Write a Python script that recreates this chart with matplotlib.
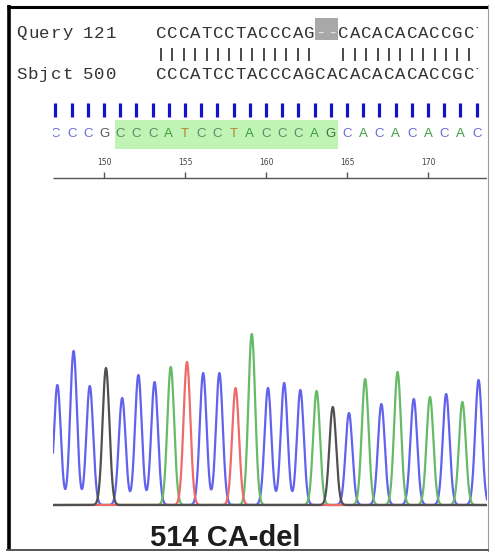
"""
Sanger trace figure: 514 CA deletion
"""

import numpy as np
import matplotlib
matplotlib.use('Agg')
import matplotlib.pyplot as plt
from matplotlib.patches import Rectangle

# ---- data ----
query_label = ('Query', '121')
sbjct_label = ('Sbjct', '500')
query_seq = "CCCATCCTACCCAG--CACACACACCGCT"
sbjct_seq = "CCCATCCTACCCAGCACACACACACCGCT"
match_cols = list(range(0, 14)) + list(range(16, 28))

first_pos = 147
base_calls = "CCCGCCCATCCTACCCAGCACACACAC"
highlight = (151, 164)
ruler_ticks = [150, 155, 160, 165, 170]

# peak height of each called base (trace units)
peak_heights = [120, 154, 119, 137, 107, 130, 123, 138, 143, 132, 132, 117, 171,
                117, 122, 115, 114, 98, 92, 126, 101, 133, 106, 108, 111, 103, 125]

label = '514 CA-del'

# ---- styling ----
W, H = 495, 552
PITCH = 11.4
trace_colors = {'C': '#6262ee', 'A': '#66bb66', 'T': '#f06a6a', 'G': '#505050'}
call_colors = {'C': '#6a6ad8', 'A': '#3d9a3d', 'T': '#c0802a', 'G': '#555555'}
call_colors_hl = {'C': '#5a8a6a', 'A': '#3d9a3d', 'T': '#b8842a', 'G': '#3f6f3f'}
xmin, xmax = 146.85, 173.64


def px_axes(fig, x0, y0, x1, y1):
    # axes placed by pixel box (top-left origin)
    return fig.add_axes([x0 / W, 1 - y1 / H, (x1 - x0) / W, (y1 - y0) / H])


fig = plt.figure(figsize=(W / 100, H / 100), dpi=100)
fig.patch.set_facecolor('white')

# full-figure overlay in pixel coords
ax0 = fig.add_axes([0, 0, 1, 1])
ax0.set_xlim(0, W)
ax0.set_ylim(H, 0)
ax0.axis('off')

# frame
ax0.plot([7, 488], [6.5, 6.5], color='black', lw=2.2, solid_capstyle='butt')
ax0.plot([8.5, 8.5], [5, 551], color='black', lw=2.6, solid_capstyle='butt')
ax0.plot([487.5, 487.5], [5, 551], color='#9a9a9a', lw=0.8)
ax0.plot([7, 488], [550, 550], color='#555555', lw=1.4)

MONO = dict(family='Liberation Mono', fontsize=12.5)


def mono_row(x0, y, s, **kw):
    for i, ch in enumerate(s):
        ax0.text(x0 + i * PITCH, y, ch, ha='center', va='baseline',
                 color='#333333', **MONO, **kw)


seq_x0 = 161
# gap box in query
ax0.add_patch(Rectangle((315, 18), 23, 22, facecolor='#a8a8a8', edgecolor='none'))
mono_row(21.7, 37.5, query_label[0])
mono_row(88, 37.5, query_label[1])
for i, ch in enumerate(query_seq):
    ax0.text(seq_x0 + i * PITCH, 37.5, ch, ha='center', va='baseline',
             color='#e6e6e6' if ch == '-' else '#333333', **MONO)
ax0.vlines([seq_x0 + i * PITCH for i in match_cols], 48, 61, color='#3a3a3a', lw=1.3)
mono_row(21.7, 79, sbjct_label[0])
mono_row(88, 79, sbjct_label[1])
mono_row(seq_x0, 79, sbjct_seq)
# right edge cut of the alignment text
ax0.add_patch(Rectangle((478, 12), 9, 75, facecolor='white', edgecolor='none', zorder=5))

ax0.text(225, 546, label, ha='center', va='baseline', fontsize=21,
         fontweight='bold', family='Liberation Sans', color='#1e1e1e')

# ---- base-call header with ruler ----
pos = first_pos + np.arange(len(base_calls))
axh = px_axes(fig, 53, 100, 487, 182)
axh.set_xlim(xmin, xmax)
axh.set_ylim(182, 100)
axh.axis('off')
axh.add_patch(Rectangle((highlight[0] - 0.33, 120), highlight[1] - highlight[0] + 0.78, 29,
                        facecolor='#c0f4b4', edgecolor='none'))
axh.vlines(pos, 103, 117, color='#1414c4', lw=2.3)
for p, b in zip(pos, base_calls):
    inside = highlight[0] <= p <= highlight[1]
    c = (call_colors_hl if inside else call_colors)[b]
    axh.text(p, 137, b, ha='center', va='baseline', fontsize=9.5,
             family='Liberation Sans', color=c, clip_on=True)
axh.hlines(178, xmin, xmax, color='#555555', lw=1)
axh.vlines(ruler_ticks, 172, 178, color='#555555', lw=1)
for t in ruler_ticks:
    axh.text(t, 165, str(t), ha='center', va='baseline', fontsize=5.5,
             color='#444444', family='DejaVu Sans')

# ---- chromatogram ----
axc = px_axes(fig, 53, 328, 487, 508)
axc.set_xlim(xmin, xmax)
axc.set_ylim(-3, 177)
axc.axis('off')
xs = np.linspace(xmin, xmax, 3000)
for base in ['C', 'A', 'T', 'G']:
    ys = np.zeros_like(xs)
    for p, h, b in zip(pos, peak_heights, base_calls):
        if b == base:
            ys += h * np.exp(-0.5 * ((xs - p - 0.12) / 0.21) ** 2)
    axc.plot(xs, ys, color=trace_colors[base], lw=1.6)

fig.savefig('out.png', dpi=100, facecolor='white')
